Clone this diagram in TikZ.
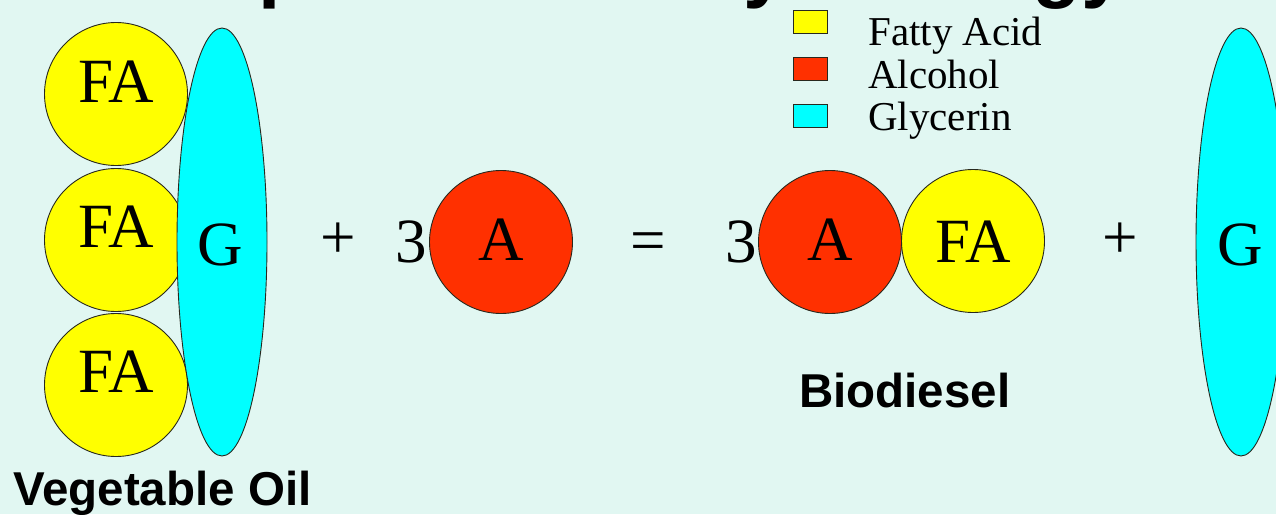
\documentclass[tikz,border=0pt]{standalone}
\usepackage{fontspec}
\setmainfont{Liberation Serif}
\newfontfamily\arialf{Liberation Sans}
\usetikzlibrary{shapes.geometric}
\definecolor{bgc}{RGB}{225,247,242}
\definecolor{fay}{RGB}{255,255,0}
\definecolor{alr}{RGB}{255,48,0}
\definecolor{glc}{RGB}{0,255,255}
\definecolor{edgec}{RGB}{40,40,30}
\tikzset{
  molfont/.style={font=\fontsize{63}{70}\selectfont},
  fa/.style={circle, draw=edgec, line width=0.9pt, fill=fay, minimum size=143pt, inner sep=0pt, molfont},
  alc/.style={circle, draw=edgec, line width=0.9pt, fill=alr, minimum size=143pt, inner sep=0pt, molfont},
  gly/.style={ellipse, draw=edgec, line width=0.9pt, fill=glc, minimum width=90pt, minimum height=428pt, inner sep=0pt, molfont},
  op/.style={molfont, inner sep=0pt},
  legbox/.style={draw=edgec, line width=0.8pt, minimum width=34pt, minimum height=23pt, inner sep=0pt},
  legtext/.style={font=\fontsize{41}{44}\selectfont, anchor=base west, inner sep=0pt},
  lab/.style={font=\arialf\bfseries\fontsize{47.5}{50}\selectfont, inner sep=0pt}
}
\begin{document}
\begin{tikzpicture}[x=1pt,y=-1pt]
\useasboundingbox (0,0) rectangle (1276,514);
\fill[bgc] (0,0) rectangle (1276,514);
\begin{scope}
\clip (0,0) rectangle (1276,514);
% cut-off title
\node[font=\arialf\bfseries\fontsize{80}{85}\selectfont, anchor=base west, inner sep=0pt] (title) at (112,-8) {Simple Chemistry Analogy};
% vegetable oil
\node[fa] (fa1) at (116,94) {};
\node[fa] (fa2) at (116,240) {};
\node[fa] (fa3) at (116,385) {};
\node[op] (fa1t) at (116,82) {FA};
\node[op] (fa2t) at (116,227) {FA};
\node[op] (fa3t) at (116,372) {FA};
\node[gly] (g1) at (222,242) {};
\node[op] (g1t) at (220,245) {G};
% reaction
\node[op] (plus1) at (338,241) {+};
\node[op] (three1) at (411,242) {3};
\node[alc] (a1) at (501,242) {};
\node[op] (a1t) at (501,240) {A};
\node[op] (eq) at (648,247) {=};
\node[op] (three2) at (741,242) {3};
\node[alc] (a2) at (830,242) {};
\node[op] (a2t) at (830,240) {A};
\node[fa] (fa4) at (973,241) {};
\node[op] (fa4t) at (973,242) {FA};
\node[op] (plus2) at (1120,241) {+};
\node[gly] (g2) at (1241,242) {};
\node[op] (g2t) at (1240,245) {G};
\end{scope}
% legend
\node[legbox, fill=fay] (lfa) at (810,22) {};
\node[legbox, fill=alr] (lal) at (810,69) {};
\node[legbox, fill=glc] (lgl) at (810,116) {};
\node[legtext] (tfa) at (868,45) {Fatty Acid};
\node[legtext] (tal) at (868,88) {Alcohol};
\node[legtext] (tgl) at (868,130) {Glycerin};
% labels
\node[lab, anchor=base west] (veg) at (13,505) {Vegetable Oil};
\node[lab, anchor=base west] (bio) at (799,407) {Biodiesel};
\end{tikzpicture}
\end{document}
